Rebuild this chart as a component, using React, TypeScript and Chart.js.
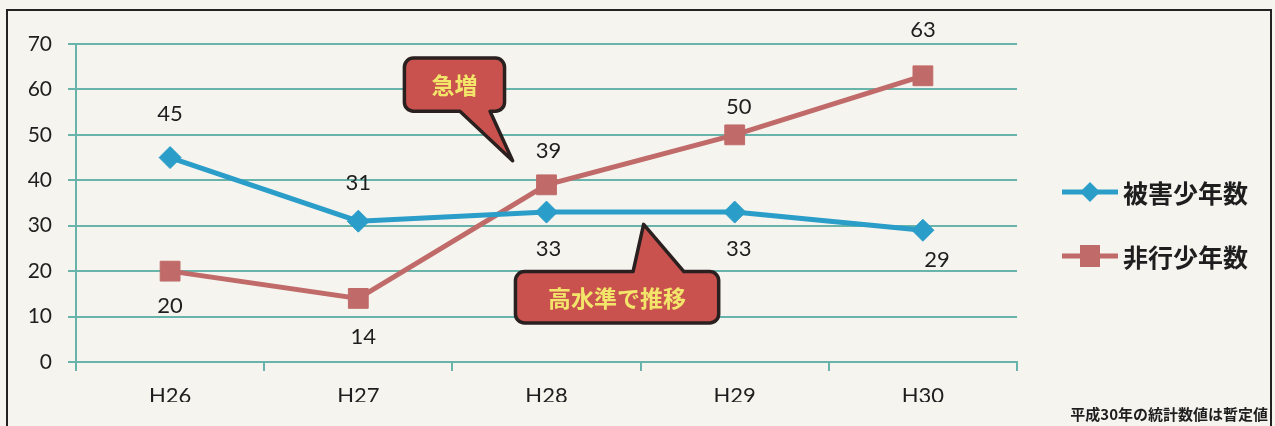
import React, { useEffect, useRef } from "react";
import { Chart, registerables } from "chart.js";

Chart.register(...registerables);

const categories = ["H26", "H27", "H28", "H29", "H30"];
const victimCounts = [45, 31, 33, 33, 29];
const delinquentCounts = [20, 14, 39, 50, 63];
const seriesNames = ["被害少年数", "非行少年数"];
const yMin = 0;
const yMax = 70;
const yStep = 10;
const calloutTexts = ["急増", "高水準で推移"];
const noteText = "平成30年の統計数値は暫定値";

const W = 1275;
const H = 426;
const TEAL = "#69b4aa";
const BLUE = "#2a9dc8";
const RED = "#c06b69";
const TEXT = "#1e1e1e";
const JP = "'Noto Sans CJK JP', 'Noto Sans', sans-serif";
const NUM = "Lato, 'Open Sans', sans-serif";

// label placement (style): dy/dx in px from point
const labelOffsets = [
  { dy: [-44, -38, 37, 37, 30], dx: [0, 0, 2, 4, 14] },
  { dy: [35, 39, -34, -28, -46], dx: [0, 5, 2, 4, 0] },
];

// callout geometry in scale units (x: category index, y: value)
const callouts = [
  { box: [1.245, 66.9, 1.777, 55.2], tail: "bottom", base: [1.54, 1.7], tip: [1.82, 44.3] },
  { box: [1.835, 19.9, 2.915, 8.6], tail: "top", base: [2.46, 2.73], tip: [2.516, 30.3] },
];

function drawCallout(
  ctx: CanvasRenderingContext2D,
  x0: number, y0: number, x1: number, y1: number,
  side: string, b0: number, b1: number, tx: number, ty: number, text: string
) {
  const r = 9;
  ctx.save();
  ctx.beginPath();
  if (side === "top") {
    ctx.moveTo(x0 + r, y0);
    ctx.lineTo(b0, y0);
    ctx.lineTo(tx, ty);
    ctx.lineTo(b1, y0);
    ctx.lineTo(x1 - r, y0);
  } else {
    ctx.moveTo(x0 + r, y0);
    ctx.lineTo(x1 - r, y0);
  }
  ctx.arcTo(x1, y0, x1, y0 + r, r);
  ctx.lineTo(x1, y1 - r);
  ctx.arcTo(x1, y1, x1 - r, y1, r);
  if (side === "bottom") {
    ctx.lineTo(b1, y1);
    ctx.lineTo(tx, ty);
    ctx.lineTo(b0, y1);
  }
  ctx.lineTo(x0 + r, y1);
  ctx.arcTo(x0, y1, x0, y1 - r, r);
  ctx.lineTo(x0, y0 + r);
  ctx.arcTo(x0, y0, x0 + r, y0, r);
  ctx.closePath();
  ctx.fillStyle = "#c9524e";
  ctx.fill();
  ctx.lineWidth = 3.5;
  ctx.strokeStyle = "#2a2020";
  ctx.lineJoin = "round";
  ctx.stroke();
  ctx.fillStyle = "#f2e56a";
  ctx.font = `bold 23px ${JP}`;
  ctx.textAlign = "center";
  ctx.textBaseline = "middle";
  ctx.fillText(text, (x0 + x1) / 2, (y0 + y1) / 2 + 1);
  ctx.restore();
}

const overlayPlugin = {
  id: "overlay",
  afterDatasetsDraw(chart: any) {
    const ctx: CanvasRenderingContext2D = chart.ctx;
    ctx.save();
    ctx.font = `22px ${NUM}`;
    ctx.fillStyle = TEXT;
    ctx.textAlign = "center";
    ctx.textBaseline = "middle";
    chart.data.datasets.forEach((ds: any, di: number) => {
      const meta = chart.getDatasetMeta(di);
      meta.data.forEach((pt: any, i: number) => {
        const off = labelOffsets[di];
        ctx.fillText(String(ds.data[i]), pt.x + off.dx[i], pt.y + off.dy[i]);
      });
    });
    ctx.restore();
  },
  afterDraw(chart: any) {
    const ctx: CanvasRenderingContext2D = chart.ctx;
    const xs = chart.scales.x;
    const ys = chart.scales.y;
    const px = (v: number) => xs.getPixelForValue(v);
    const py = (v: number) => ys.getPixelForValue(v);
    callouts.forEach((c, i) => {
      drawCallout(
        ctx,
        px(c.box[0]), py(c.box[1]), px(c.box[2]), py(c.box[3]),
        c.tail, px(c.base[0]), px(c.base[1]), px(c.tip[0]), py(c.tip[1]),
        calloutTexts[i]
      );
    });

    // legend
    const legendYs = [192, 256];
    chart.data.datasets.forEach((ds: any, di: number) => {
      const y = legendYs[di];
      const color = ds.borderColor;
      ctx.save();
      ctx.strokeStyle = color;
      ctx.lineWidth = 5;
      ctx.beginPath();
      ctx.moveTo(1062, y);
      ctx.lineTo(1118, y);
      ctx.stroke();
      ctx.fillStyle = color;
      const cx = 1090;
      if (ds.pointStyle === "rectRot") {
        const s = 10;
        ctx.beginPath();
        ctx.moveTo(cx, y - s);
        ctx.lineTo(cx + s, y);
        ctx.lineTo(cx, y + s);
        ctx.lineTo(cx - s, y);
        ctx.closePath();
        ctx.fill();
      } else {
        ctx.fillRect(cx - 10, y - 11, 20, 22);
      }
      ctx.fillStyle = "#1e1e1e";
      ctx.font = `bold 25px ${JP}`;
      ctx.textAlign = "left";
      ctx.textBaseline = "middle";
      ctx.fillText(ds.label, 1123, y + 1);
      ctx.restore();
    });

    // note
    ctx.save();
    ctx.fillStyle = "#1e1e1e";
    ctx.font = `bold 15px ${JP}`;
    ctx.textAlign = "right";
    ctx.textBaseline = "middle";
    ctx.fillText(noteText, 1268, 414);
    ctx.restore();
  },
};

export default function App() {
  const ref = useRef<HTMLCanvasElement | null>(null);

  useEffect(() => {
    if (!ref.current) return;
    const chart = new Chart(ref.current, {
      type: "line",
      data: {
        labels: categories,
        datasets: [
          {
            label: seriesNames[0],
            data: victimCounts,
            borderColor: BLUE,
            backgroundColor: BLUE,
            borderWidth: 5,
            pointStyle: "rectRot",
            pointRadius: 11,
            pointBorderWidth: 1,
            tension: 0,
          },
          {
            label: seriesNames[1],
            data: delinquentCounts,
            borderColor: RED,
            backgroundColor: RED,
            borderWidth: 5,
            pointStyle: "rect",
            pointRadius: 14,
            pointBorderWidth: 1,
            tension: 0,
          },
        ],
      },
      options: {
        animation: false,
        responsive: false,
        devicePixelRatio: 1,
        layout: { padding: { left: 16, right: 258, top: 44, bottom: 24 } },
        plugins: { legend: { display: false }, tooltip: { enabled: false } },
        scales: {
          x: {
            type: "category",
            offset: true,
            grid: {
              offset: true,
              drawOnChartArea: false,
              drawTicks: true,
              tickLength: 9,
              color: TEAL,
              lineWidth: 2,
            },
            border: { display: true, color: TEAL, width: 2 },
            ticks: { font: { family: NUM, size: 22 }, color: TEXT, padding: 12 },
            afterFit: (s: any) => {
              s.height = 40;
            },
          },
          y: {
            min: yMin,
            max: yMax,
            ticks: { stepSize: yStep, font: { family: NUM, size: 21 }, color: TEXT, padding: 16 },
            grid: { color: TEAL, lineWidth: 2, tickLength: 8, drawTicks: true },
            border: { display: true, color: TEAL, width: 2 },
            afterFit: (s: any) => {
              s.width = 60;
            },
          },
        },
      } as any,
      plugins: [overlayPlugin],
    });
    return () => chart.destroy();
  }, []);

  return (
    <div style={{ position: "fixed", left: 0, top: 0, width: W, height: H, background: "#f5f4ef", overflow: "hidden" }}>
      <div
        style={{
          position: "absolute",
          left: 6,
          top: 9,
          width: 1266,
          height: 440,
          border: "2px solid #222",
          boxSizing: "border-box",
        }}
      />
      <canvas ref={ref} width={W} height={H} style={{ position: "absolute", left: 0, top: 0, width: W, height: H }} />
    </div>
  );
}
